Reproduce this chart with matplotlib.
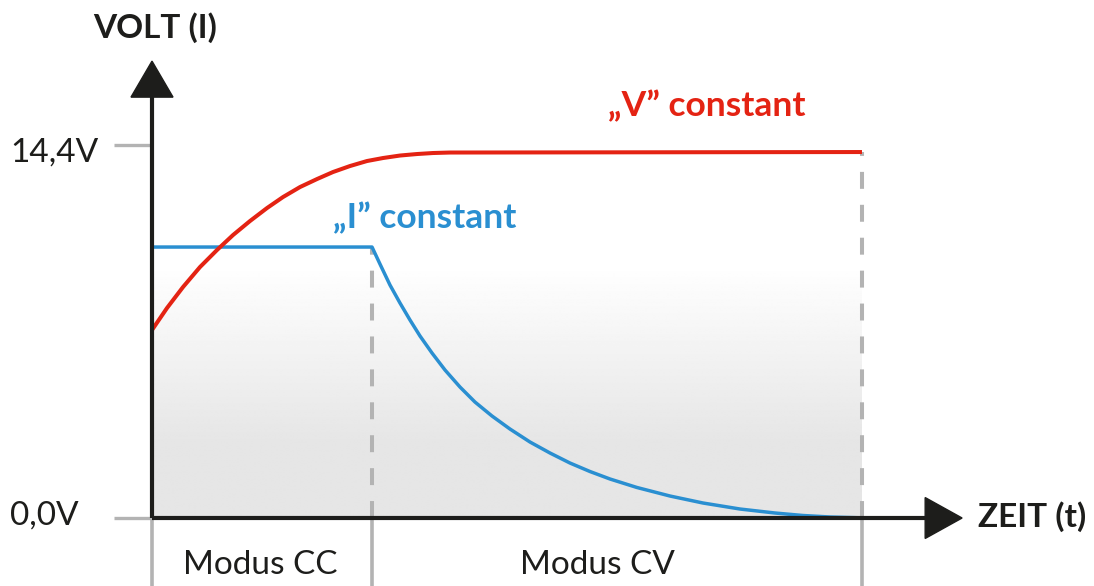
# CC / CV charging curve (Modus CC -> Modus CV)

import matplotlib
matplotlib.use('Agg')
import matplotlib.pyplot as plt
from matplotlib.patches import Polygon
import numpy as np

# voltage curve (red), time in arbitrary units 0..10
t_volt = [0.0, 0.211, 0.437, 0.676, 0.915, 1.141, 1.380, 1.620, 1.845, 2.085,
          2.324, 2.549, 2.789, 3.028, 3.254, 3.493, 3.732, 3.958, 4.197, 10.0]
v_volt = [7.258, 8.107, 8.918, 9.690, 10.346, 10.925, 11.466, 11.968, 12.392, 12.779,
          13.087, 13.358, 13.590, 13.783, 13.899, 13.995, 14.053, 14.092, 14.111, 14.130]

# current curve (blue)
t_curr = [0.0, 3.099, 3.211, 3.352, 3.493, 3.634, 3.775, 3.944, 4.127, 4.338,
          4.549, 4.789, 5.042, 5.324, 5.606, 5.887, 6.169, 6.451, 6.831, 7.296,
          7.761, 8.282, 8.775, 9.169, 9.549, 9.972]
i_curr = [10.462, 10.462, 9.806, 8.995, 8.300, 7.644, 7.026, 6.370, 5.714, 5.057,
          4.478, 3.938, 3.436, 2.934, 2.509, 2.123, 1.795, 1.506, 1.178, 0.849,
          0.579, 0.347, 0.193, 0.097, 0.039, 0.008]

t_cc_end = 3.10
t_end = 10.0
tick_values = [0.0, 14.4]
tick_labels = ['0,0V', '14,4V']
mode_labels = ['Modus CC', 'Modus CV']

RED = '#e42313'
BLUE = '#2a8fd1'
BLACK = '#1d1d1b'
GRAY = '#b3b3b3'

plt.rcParams['font.family'] = ['Lato', 'DejaVu Sans']
plt.rcParams['lines.scale_dashes'] = False


def main():
    fig = plt.figure(figsize=(10.94, 5.86), dpi=100)
    ax = fig.add_axes([0, 0, 1, 1])
    ax.set_xlim(-2.141, 13.268)
    ax.set_ylim(-2.625, 20.0)
    ax.axis('off')

    # grey gradient background under the curves
    grad = np.linspace(0, 1, 256)
    grad = np.clip((grad - 3.0 / 14.13) / ((9.8 - 3.0) / 14.13), 0, 1)
    img = (0.902 + (1.0 - 0.902) * grad)[:, None] * np.ones((1, 2))
    ax.imshow(img, cmap='gray', vmin=0, vmax=1, origin='lower',
              extent=[0, t_end, 0, v_volt[-1]], aspect='auto',
              interpolation='bilinear', zorder=0)

    # dashed separators and solid lines below the axis
    dash = (0, (12.2, 11.5))
    ax.plot([t_cc_end, t_cc_end], [0, i_curr[1]], color=GRAY, lw=2.9, ls=dash, zorder=1)
    ax.plot([t_end, t_end], [0, v_volt[-1]], color=GRAY, lw=2.9, ls=dash, zorder=1)
    for xv in [0.0, t_cc_end, t_end]:
        ax.plot([xv, xv], [-2.7, 0], color=GRAY, lw=2.6, zorder=1, solid_capstyle='butt')

    # tick marks on the y axis
    for yv, lab in zip(tick_values, tick_labels):
        ax.plot([-0.535, 0], [yv, yv], color=GRAY, lw=2.4, zorder=1, solid_capstyle='butt')
        ax.text(-2.0, yv + (0.1 if yv == 0 else -0.3), lab, fontsize=24,
                color=BLACK, ha='left', va='center')

    # curves
    ax.plot(t_volt, v_volt, color=RED, lw=2.9, zorder=3,
            solid_capstyle='butt', solid_joinstyle='round')
    ax.plot(t_curr, i_curr, color=BLUE, lw=2.5, zorder=2,
            solid_capstyle='butt', solid_joinstyle='round')

    # axes with arrow heads
    ax.plot([0, 0], [0, 16.3], color=BLACK, lw=3.0, zorder=4, solid_capstyle='butt')
    ax.plot([0, 10.9], [0, 0], color=BLACK, lw=3.0, zorder=4, solid_capstyle='butt')
    ax.add_patch(Polygon([[-0.296, 16.25], [0.296, 16.25], [0, 17.64]],
                         closed=True, color=BLACK, zorder=4))
    ax.add_patch(Polygon([[10.89, 0.79], [10.89, -0.79], [11.41, 0]],
                         closed=True, color=BLACK, zorder=4))

    # labels
    ax.text(0.04, 18.92, 'VOLT (I)', fontsize=24, fontweight='bold', color=BLACK,
            ha='center', va='center')
    ax.text(11.63, 0.04, 'ZEIT (t)', fontsize=24, fontweight='bold', color=BLACK,
            ha='left', va='center')
    ax.text(6.42, 15.52, '\u201eV\u201d constant', fontsize=25.5, fontweight='bold',
            color=RED, ha='left', va='baseline')
    ax.text(2.55, 11.2, '\u201eI\u201d constant', fontsize=25.5, fontweight='bold',
            color=BLUE, ha='left', va='baseline')
    ax.text(t_cc_end / 2 - 0.02, -1.81, mode_labels[0], fontsize=24,
            color=BLACK, ha='center', va='center')
    ax.text((t_cc_end + t_end) / 2 - 0.27, -1.81, mode_labels[1], fontsize=24,
            color=BLACK, ha='center', va='center')

    fig.savefig('out.png', dpi=100, facecolor='white')


if __name__ == "__main__":
    main()
